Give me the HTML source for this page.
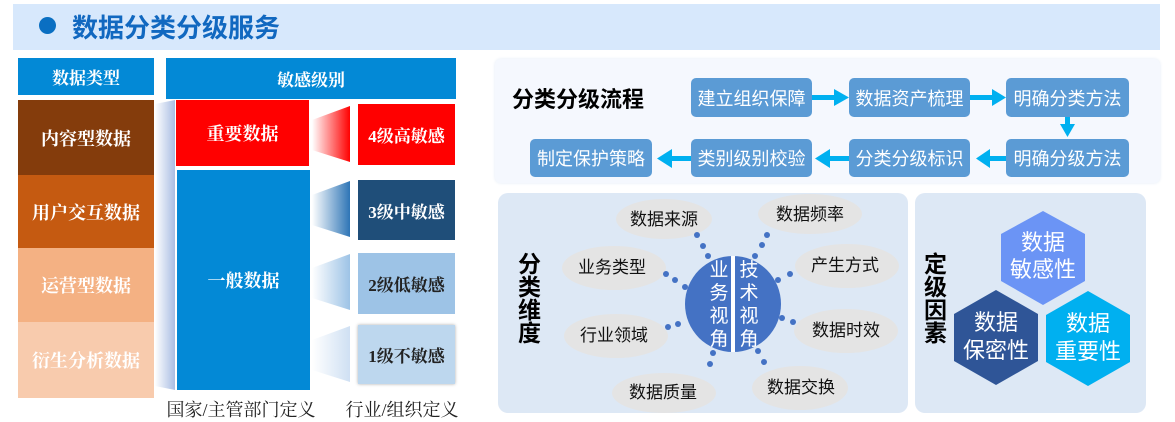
<!DOCTYPE html>
<html><head><meta charset="utf-8"><style>
*{margin:0;padding:0;box-sizing:border-box}
body{width:1175px;height:420px;background:#fff;position:relative;overflow:hidden;font-family:"Liberation Serif","Noto Serif CJK SC",serif}
.a{position:absolute;display:flex;align-items:center;justify-content:center;text-align:center}
.s{font-family:"Liberation Sans","Noto Sans CJK SC",sans-serif}
.w{color:#fff}
.b{font-weight:bold}
.fb{background:#5b9bd5;border-radius:5px;color:#fff;font-size:18px}
</style></head><body>
<div class="a" style="left:13px;top:4px;width:1147px;height:46px;background:#d7e8fc"></div>
<div class="a" style="left:39px;top:17px;width:17px;height:17px;border-radius:50%;background:#0a6fc2"></div>
<div class="a s" style="left:72px;top:8px;height:36px;font-size:26px;font-weight:bold;color:#1168c0">数据分类分级服务</div>

<div class="a w b" style="left:18px;top:58px;width:136px;height:37px;background:#0389d6;font-size:17px">数据类型</div>
<div class="a w b" style="left:166px;top:58px;width:290px;height:41px;background:#0389d6;font-size:17px">敏感级别</div>
<div class="a w b" style="left:18px;top:100px;width:136px;height:75px;background:#843c0c;font-size:18px">内容型数据</div>
<div class="a w b" style="left:18px;top:175px;width:136px;height:73px;background:#c55a11;font-size:18px">用户交互数据</div>
<div class="a w b" style="left:18px;top:248px;width:136px;height:74px;background:#f4b183;font-size:18px">运营型数据</div>
<div class="a w b" style="left:18px;top:322px;width:136px;height:76px;background:#f8cbad;font-size:18px">衍生分析数据</div>
<svg style="position:absolute;left:0;top:0" width="1175" height="420">
<defs>
<linearGradient id="g0" x1="0" x2="1"><stop offset="0" stop-color="#fff"/><stop offset="1" stop-color="#a9bde3"/></linearGradient>
<linearGradient id="g1" x1="0" x2="1"><stop offset="0" stop-color="#fff"/><stop offset="1" stop-color="#f00"/></linearGradient>
<linearGradient id="g2" x1="0" x2="1"><stop offset="0" stop-color="#fff"/><stop offset="1" stop-color="#2e75b6"/></linearGradient>
<linearGradient id="g3" x1="0" x2="1"><stop offset="0" stop-color="#fff"/><stop offset="1" stop-color="#9dc3e6"/></linearGradient>
<linearGradient id="g4" x1="0" x2="1"><stop offset="0" stop-color="#fff"/><stop offset="1" stop-color="#cfe0f3"/></linearGradient>
</defs>
<polygon points="155,104 175,100 175,390 155,386" fill="url(#g0)"/>
<polygon points="312,120 350,106 350,162 312,150" fill="url(#g1)"/>
<polygon points="312,195 350,181 350,237 312,225" fill="url(#g2)"/>
<polygon points="312,268 350,254 350,310 312,298" fill="url(#g3)"/>
<polygon points="312,340 350,326 350,382 312,370" fill="url(#g4)"/>
</svg>
<div class="a w b" style="left:176px;top:100px;width:133px;height:66px;background:#f00;font-size:18px">重要数据</div>
<div class="a w b" style="left:177px;top:170px;width:133px;height:220px;background:#0389d6;font-size:18px">一般数据</div>
<div class="a w b" style="left:358px;top:104px;width:97px;height:61px;background:#f00;font-size:17px">4级高敏感</div>
<div class="a w b" style="left:358px;top:180px;width:97px;height:60px;background:#1f4e79;font-size:17px">3级中敏感</div>
<div class="a b" style="left:358px;top:253px;width:97px;height:61px;background:#9dc3e6;font-size:17px;color:#222">2级低敏感</div>
<div class="a b" style="left:358px;top:325px;width:97px;height:59px;background:#bdd7ee;font-size:17px;color:#222;box-shadow:0 0 3px #aaa">1级不敏感</div>
<div class="a" style="left:156px;top:397px;width:170px;height:23px;font-size:18px;color:#222">国家/主管部门定义</div>
<div class="a" style="left:336px;top:397px;width:132px;height:23px;font-size:18px;color:#222">行业/组织定义</div>

<div class="a" style="left:495px;top:59px;width:665px;height:124px;background:#f5f8fe;border-radius:6px;box-shadow:0 0 3px #e3eaf5"></div>
<div class="a s" style="left:512px;top:82px;height:32px;font-size:22px;font-weight:bold;color:#000">分类分级流程</div>
<div class="a fb s" style="left:691px;top:78px;width:121px;height:39px">建立组织保障</div>
<div class="a fb s" style="left:849px;top:78px;width:121px;height:39px">数据资产梳理</div>
<div class="a fb s" style="left:1006px;top:78px;width:123px;height:39px">明确分类方法</div>
<div class="a fb s" style="left:530px;top:139px;width:122px;height:38px">制定保护策略</div>
<div class="a fb s" style="left:691px;top:139px;width:121px;height:38px">类别级别校验</div>
<div class="a fb s" style="left:849px;top:139px;width:121px;height:38px">分类分级标识</div>
<div class="a fb s" style="left:1006px;top:139px;width:123px;height:38px">明确分级方法</div>
<svg style="position:absolute;left:0;top:0" width="1175" height="420" fill="#00b0f0">
<rect x="812" y="95" width="24" height="5"/><polygon points="834,89 849,97.5 834,106"/>
<rect x="970" y="95" width="24" height="5"/><polygon points="992,89 1006,97.5 992,106"/>
<rect x="1065" y="117" width="5" height="8"/><polygon points="1060,124 1075,124 1067.5,137"/>
<rect x="988" y="156" width="18" height="5"/><polygon points="990,149 976,158.5 990,168"/>
<rect x="828" y="156" width="21" height="5"/><polygon points="830,149 815,158.5 830,168"/>
<rect x="670" y="156" width="21" height="5"/><polygon points="672,149 657,158.5 672,168"/>
</svg>

<div class="a" style="left:498px;top:193px;width:410px;height:220px;background:#dde8f5;border-radius:10px"></div>
<div class="a" style="left:915px;top:193px;width:231px;height:220px;background:#dde8f5;border-radius:10px"></div>
<div class="a s" style="left:512px;top:240px;width:30px;height:115px;font-size:23px;font-weight:bold;line-height:27px;writing-mode:vertical-rl;color:#000">分类维度</div>
<div class="a s" style="left:918px;top:240px;width:30px;height:115px;font-size:23px;font-weight:bold;line-height:27px;writing-mode:vertical-rl;color:#000">定级因素</div>
<svg style="position:absolute;left:0;top:0" width="1175" height="420" font-family="Liberation Sans,Noto Sans CJK SC,sans-serif" font-size="17" text-anchor="middle">
<g fill="#e4e4e4">
<ellipse cx="664" cy="219" rx="48" ry="20"/><ellipse cx="810" cy="214" rx="52" ry="20"/>
<ellipse cx="614" cy="268" rx="52" ry="22"/><ellipse cx="847" cy="266" rx="52" ry="22"/>
<ellipse cx="616" cy="336" rx="52" ry="22"/><ellipse cx="846" cy="331" rx="52" ry="22"/>
<ellipse cx="664" cy="393" rx="52" ry="20"/><ellipse cx="800" cy="388" rx="48" ry="22"/>
</g>
<g fill="#111">
<text x="664" y="225">数据来源</text><text x="810" y="220">数据频率</text>
<text x="612" y="273">业务类型</text><text x="845" y="271">产生方式</text>
<text x="614" y="341">行业领域</text><text x="846" y="336">数据时效</text>
<text x="663" y="398">数据质量</text><text x="801" y="393">数据交换</text>
</g>
<g fill="#4472c4">
<circle cx="697" cy="235" r="3"/><circle cx="703" cy="246" r="3"/><circle cx="708" cy="256" r="3"/>
<circle cx="666" cy="274" r="3"/><circle cx="675" cy="280" r="3"/><circle cx="685" cy="287" r="3"/>
<circle cx="668" cy="327" r="3"/><circle cx="678" cy="324" r="3"/>
<circle cx="713" cy="353" r="3"/><circle cx="710" cy="364" r="3"/>
<circle cx="758" cy="351" r="3"/><circle cx="764" cy="362" r="3"/>
<circle cx="782" cy="318" r="3"/><circle cx="793" cy="322" r="3"/>
<circle cx="778" cy="280" r="3"/><circle cx="790" cy="274" r="3"/>
<circle cx="767" cy="235" r="3"/><circle cx="762" cy="245" r="3"/><circle cx="755" cy="256" r="3"/>
<circle cx="733" cy="304" r="48"/>
</g>
<rect x="731" y="256" width="4" height="96" fill="#fff"/>
<g fill="#fff" font-size="19">
<text x="719" y="276">业</text><text x="719" y="299">务</text><text x="719" y="322">视</text><text x="719" y="345">角</text>
<text x="749" y="276">技</text><text x="749" y="299">术</text><text x="749" y="322">视</text><text x="749" y="345">角</text>
</g>
<polygon points="1043,211 1085,234 1085,281 1043,305 1001,281 1001,234" fill="#6b94f5"/>
<polygon points="996,290 1038,314 1038,361 996,385 954,361 954,314" fill="#2f5597"/>
<polygon points="1088,291 1130,315 1130,362 1088,386 1046,362 1046,315" fill="#00b0f0"/>
<g fill="#fff" font-size="22">
<text x="1043" y="250">数据</text><text x="1043" y="277">敏感性</text>
<text x="996" y="330">数据</text><text x="996" y="358">保密性</text>
<text x="1088" y="331">数据</text><text x="1088" y="359">重要性</text>
</g>
</svg>
</body></html>
